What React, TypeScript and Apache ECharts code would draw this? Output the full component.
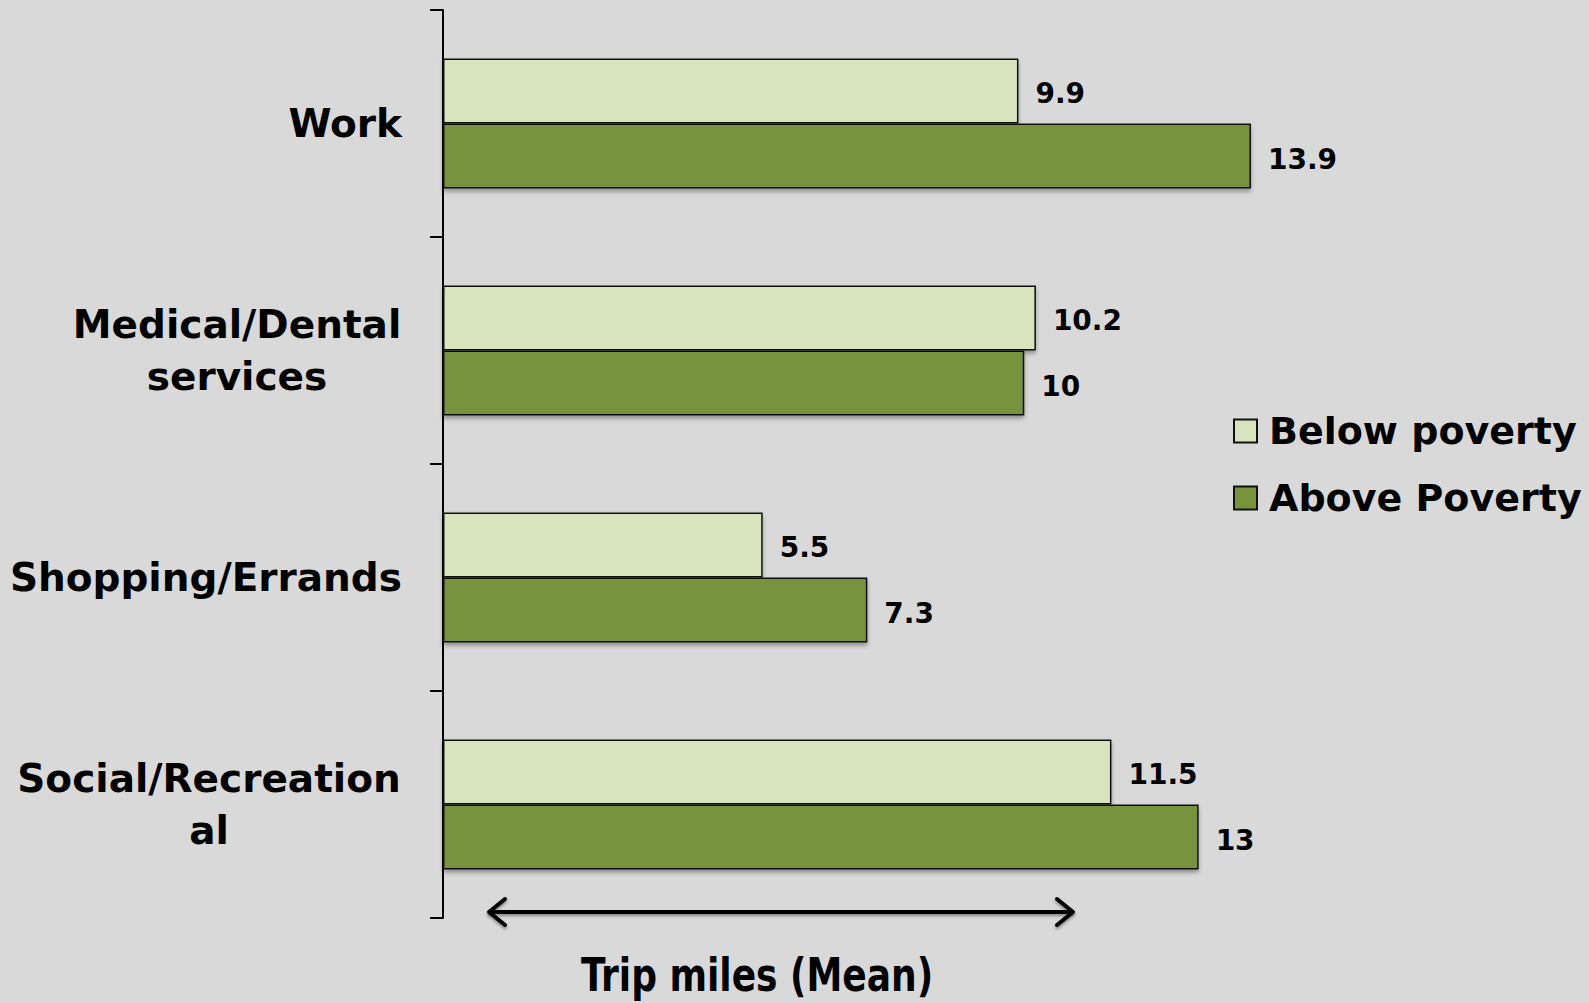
import React, { useEffect, useRef } from "react";
import * as echarts from "echarts";

const categories = ["Work", "Medical/Dental services", "Shopping/Errands", "Social/Recreational"];
const seriesNames = ["Below poverty", "Above Poverty"];
const belowPoverty = [9.9, 10.2, 5.5, 11.5];
const abovePoverty = [13.9, 10, 7.3, 13];
const axisTitle = "Trip miles (Mean)";

const LIGHT = "#D7E4BD";
const DARK = "#77933C";

export default function App() {
  const ref = useRef<HTMLDivElement>(null);
  useEffect(() => {
    if (!ref.current) return;
    const chart = echarts.init(ref.current, undefined, { renderer: "svg" });
    const labelFont = "'DejaVu Sans', Verdana, sans-serif";
    const barStyle = (color: string) => ({
      color,
      borderColor: "#111",
      borderWidth: 1.5,
      shadowColor: "rgba(0,0,0,0.35)",
      shadowBlur: 4,
      shadowOffsetY: 3,
    });
    const valueLabel = {
      show: true,
      position: "right",
      distance: 17,
      offset: [0, 3],
      color: "#000",
      fontWeight: "bold",
      fontSize: 28,
      fontFamily: labelFont,
    };
    const arrowStyle = {
      stroke: "#000",
      lineWidth: 4,
      fill: null,
      lineCap: "round",
      lineJoin: "round",
      shadowColor: "rgba(0,0,0,0.4)",
      shadowBlur: 3,
      shadowOffsetY: 2,
    };
    chart.setOption({
      animation: false,
      backgroundColor: "#D9D9D9",
      grid: { left: 443, top: 10, width: 930, height: 908, containLabel: false },
      xAxis: {
        type: "value",
        min: 0,
        max: 16,
        show: false,
      },
      yAxis: {
        type: "category",
        inverse: true,
        data: categories,
        axisLine: { show: true, lineStyle: { color: "#000", width: 2 } },
        axisTick: { show: true, length: 13, lineStyle: { color: "#000", width: 2 } },
        axisLabel: {
          margin: 41,
          color: "#000",
          fontWeight: "bold",
          fontSize: 39,
          fontFamily: labelFont,
          lineHeight: 52,
          align: "right",
          formatter: (v: string) => {
            if (v === "Medical/Dental services") return "{m|Medical/Dental}\n{m|services}";
            if (v === "Social/Recreational") return "{s|Social/Recreation}\n{s|al}";
            return v;
          },
          rich: {
            m: {
              width: 330,
              align: "center",
              fontWeight: "bold",
              fontSize: 39,
              fontFamily: labelFont,
              lineHeight: 52,
              color: "#000",
            },
            s: {
              width: 386,
              align: "center",
              fontWeight: "bold",
              fontSize: 39,
              fontFamily: labelFont,
              lineHeight: 52,
              color: "#000",
            },
          },
        },
        splitLine: { show: false },
      },
      legend: {
        orient: "vertical",
        left: 1228,
        top: 407,
        itemWidth: 23,
        itemHeight: 23,
        itemGap: 29,
        icon: "rect",
        data: seriesNames,
        textStyle: {
          color: "#000",
          fontWeight: "bold",
          fontSize: 38,
          fontFamily: labelFont,
          lineHeight: 38,
          padding: [0, 0, 0, 7],
        },
      },
      series: [
        {
          name: seriesNames[0],
          type: "bar",
          data: belowPoverty,
          barGap: "0%",
          barCategoryGap: "42.7%",
          itemStyle: barStyle(LIGHT),
          label: valueLabel,
        },
        {
          name: seriesNames[1],
          type: "bar",
          data: abovePoverty,
          barGap: "0%",
          barCategoryGap: "42.7%",
          itemStyle: barStyle(DARK),
          label: valueLabel,
        },
      ],
      graphic: [
        {
          type: "rect",
          shape: { x: 489, y: 910, width: 584, height: 4 },
          style: { fill: "#000", shadowColor: "rgba(0,0,0,0.4)", shadowBlur: 3, shadowOffsetY: 2 },
        },
        {
          type: "polyline",
          shape: { points: [[505, 899], [489, 912], [505, 925]] },
          style: arrowStyle,
        },
        {
          type: "polyline",
          shape: { points: [[1057, 899], [1073, 912], [1057, 925]] },
          style: arrowStyle,
        },
        {
          type: "text",
          x: 757,
          y: 975,
          scaleX: 0.87,
          originX: 0,
          style: {
            text: axisTitle,
            fill: "#000",
            font: "bold 46px 'DejaVu Sans Condensed', 'DejaVu Sans', sans-serif",
            textAlign: "center",
            textVerticalAlign: "middle",
            shadowColor: "rgba(0,0,0,0.4)",
            shadowBlur: 3,
            shadowOffsetY: 2,
          },
        },
      ],
    });
    return () => chart.dispose();
  }, []);
  return <div ref={ref} style={{ position: "fixed", left: 0, top: 0, width: 1589, height: 1003 }} />;
}
